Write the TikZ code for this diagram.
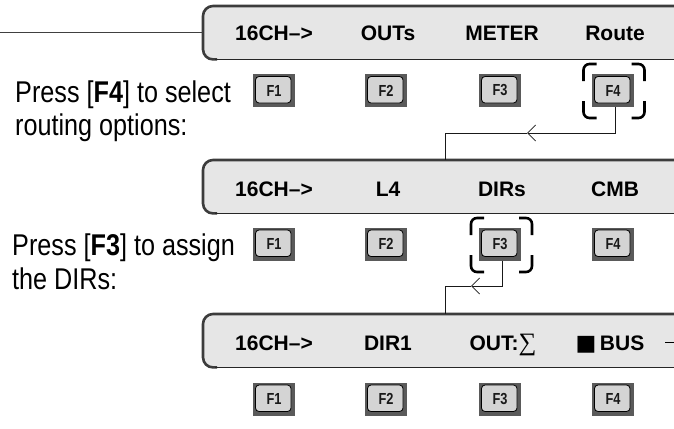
\documentclass[tikz,border=0pt]{standalone}
\usepackage{fontspec}
\setmainfont{Liberation Sans}
\newfontfamily\capfont{Liberation Sans}[FakeStretch=0.84]
\newfontfamily\keyfont{Liberation Sans}[FakeStretch=0.8]
\newfontfamily\symfont{DejaVu Sans}
\newfontfamily\sumfont{Liberation Serif}
\usetikzlibrary{arrows.meta}
\definecolor{panelfill}{HTML}{E6E6E6}
\definecolor{paneledge}{HTML}{3C3C3C}
\definecolor{keyshadow}{HTML}{5A5A5A}
\definecolor{keyface}{HTML}{D4D4D4}
\begin{document}
\begin{tikzpicture}[x=1pt,y=-1pt,
  panel/.style={rectangle, fill=panelfill, rounded corners=10pt, minimum width=520pt,
    minimum height=53pt, anchor=north west, inner sep=0pt},
  edgethick/.style={line width=2.6pt, draw=paneledge, rounded corners=10pt},
  edgethin/.style={line width=1pt, draw=black!85},
  lcd/.style={anchor=base, inner sep=0pt, font=\bfseries\fontsize{21}{21}\selectfont},
  key/.style={rectangle, fill=keyshadow, minimum width=42pt, minimum height=33pt, inner sep=0pt,
    text=black!90, font=\keyfont\bfseries\fontsize{16}{16}\selectfont,
    path picture={\draw[fill=keyface, line width=0.8pt, rounded corners=3.5pt]
      ([xshift=2.5pt,yshift=-2.5pt]path picture bounding box.north west) rectangle
      ([xshift=-4pt,yshift=4pt]path picture bounding box.south east);}},
  caption/.style={anchor=base west, inner sep=0pt, font=\capfont\fontsize{30}{33}\selectfont},
  conn/.style={line width=0.8pt, draw=black!90},
  barb/.style={-{Straight Barb[length=8pt,width=16pt]}},
  selmark/.pic={
    \foreach \sx/\sy in {1/1,1/-1,-1/1,-1/-1}{
      \draw[line width=2.6pt, rounded corners=6pt]
        ({\sx*(30.5-13)}, {\sy*27}) -- ({\sx*30.5}, {\sy*27}) -- ({\sx*30.5}, {\sy*(27-17)});
    }
  }
]
\useasboundingbox (0,0) rectangle (674,428);
\clip (0,0) rectangle (674,428);

% ---------- panels ----------
\node[panel] (P1) at (203,6) {};
\node[panel] (P2) at (203,160) {};
\node[panel] (P3) at (203,314) {};
\foreach \p in {P1,P2,P3}{
  \draw[edgethick] ([xshift=14pt]\p.south west) -- (\p.south west) -- (\p.north west) -- (\p.north east);
  \draw[edgethin] ([xshift=12pt]\p.south west) -- (\p.south east);
}

% lead line into first panel
\coordinate (lead) at (0,33);
\draw[line width=1pt, draw=black!75] (lead) -- (lead -| P1.west);

% ---------- panel labels ----------
\node[lcd] (L11) at (274,41) {16CH–>};
\node[lcd] (L12) at (388,41) {OUTs};
\node[lcd] (L13) at (502,41) {METER};
\node[lcd] (L14) at (615,41) {Route};

\node[lcd] (L21) at (274,196) {16CH–>};
\node[lcd] (L22) at (388,196) {L4};
\node[lcd] (L23) at (502,196) {DIRs};
\node[lcd] (L24) at (615,196) {CMB};

\node[lcd] (L31) at (274,350) {16CH–>};
\node[lcd] (L32) at (388,350) {DIR1};
\node[lcd] (L33) at (503,350) {OUT:{\sumfont\mdseries\fontsize{25}{25}\selectfont ∑}};
\node[lcd] (L34) at (610,350) {{\symfont\mdseries\fontsize{22}{22}\selectfont ■}\,BUS};

\coordinate (tail) at (665,342);
\draw[line width=0.8pt] (tail) -- (680,342);

% ---------- keys ----------
\foreach \r/\y in {1/90.5,2/244,3/399}{
  \node[key] (K\r1) at (274,\y) {F1};
  \node[key] (K\r2) at (386,\y) {F2};
  \node[key] (K\r3) at (500,\y) {F3};
  \node[key] (K\r4) at (613,\y) {F4};
}

% ---------- selection brackets ----------
\pic at ([shift={(1pt,-0.5pt)}]K14.center) {selmark};
\pic at ([shift={(1.5pt,-1pt)}]K23.center) {selmark};

% ---------- connectors ----------
\coordinate (a1) at (527,133);
\coordinate (j1) at (445,133);
\draw[conn, barb] ([xshift=2pt]K14.south) |- (a1);
\draw[conn] (a1) -- (j1) -- (j1 |- P2.north);

\coordinate (a2) at (471,286);
\coordinate (j2) at (445,286);
\draw[conn, barb] ([xshift=2pt]K23.south) |- (a2);
\draw[conn] (a2) -- (j2) -- (j2 |- P3.north);

% ---------- captions ----------
\node[caption] (C1a) at (15,102) {Press [{\bfseries F4}] to select};
\node[caption] (C1b) at (15,135) {routing options:};
\node[caption] (C2a) at (12,255) {Press [{\bfseries F3}] to assign};
\node[caption] (C2b) at (12,289) {the DIRs:};
\end{tikzpicture}
\end{document}
